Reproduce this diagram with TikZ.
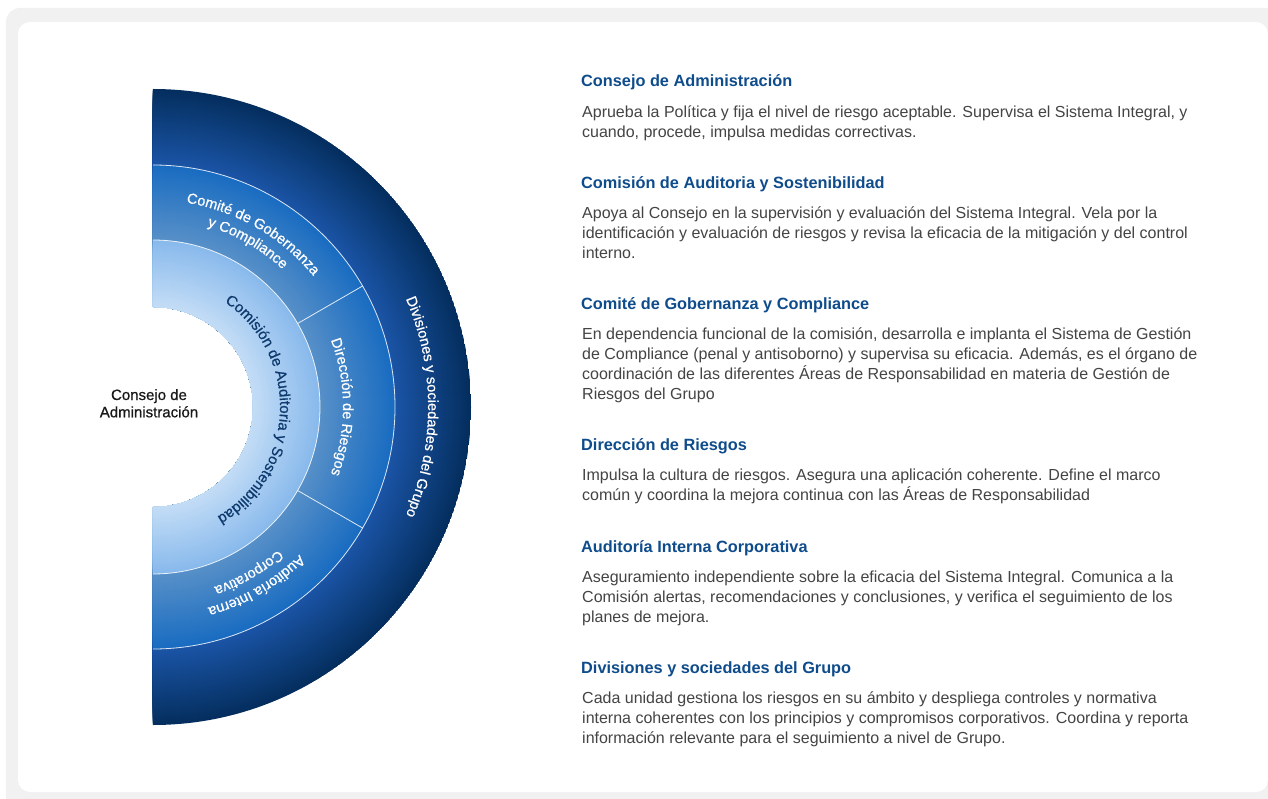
\documentclass[tikz,border=0pt]{standalone}
\usepackage{fontspec}
\setmainfont{Liberation Sans}
\newfontfamily\mediumfamily{Liberation Sans}[FakeBold=0.7]
\usetikzlibrary{decorations.text}

\definecolor{framegrey}{HTML}{F1F1F1}
\definecolor{headblue}{HTML}{0F4C8C}
\definecolor{bodygrey}{HTML}{444444}
\definecolor{navytext}{HTML}{0E3A6E}
\definecolor{innerhi}{HTML}{C4DDF6}
\definecolor{innerlo}{HTML}{88B9EC}
\definecolor{midhi}{HTML}{5890C8}
\definecolor{midlo}{HTML}{196CC1}
\definecolor{outerhi}{HTML}{1B55A7}
\definecolor{outerlo}{HTML}{042E5E}

% radial blend of one ring: inner radius, outer radius, inner colour, outer colour
\newcommand{\ringshade}[4]{%
  \foreach \r in {#2,...,#1} {
    \pgfmathsetmacro\p{100*(\r-#1)/(#2-#1)}
    \fill[#4!\p!#3] (O) circle[radius=\r];
  }}

\newcommand{\headfont}{\fontsize{16.3}{20}\selectfont\bfseries}
\newcommand{\bodyfont}{\fontsize{16}{20}\selectfont}
\newcommand{\ringfont}{\mediumfamily\fontsize{14.5}{17}\selectfont}
\newcommand{\boardfont}{\mediumfamily\fontsize{15}{17.3}\selectfont}

\tikzstyle{heading}=[anchor=base west, inner sep=0, font=\headfont, text=headblue]
\tikzstyle{body}=[anchor=base west, inner sep=0, font=\bodyfont, text=bodygrey]
\tikzstyle{ringline}=[white, opacity=0.85, line width=0.8pt]
\tikzstyle{ring label}=[decorate, decoration={text along path, text align=center, text color=white}]

\begin{document}
\begin{tikzpicture}[x=1pt, y=1pt]
  \useasboundingbox (-153,-391) rectangle (1115,407);
  \fill[white] (-153,-391) rectangle (1115,407);
  % card on grey frame
  \fill[framegrey, rounded corners=14] (-147,399) rectangle (1160,-420);
  \fill[white, rounded corners=12] (-135,385) rectangle (1115,-385);

  \coordinate (O) at (0,0);

  % half rings
  \begin{scope}
    \clip (O) ++(90:318) arc[start angle=90, end angle=-90, radius=318]
      -- ++(0,218) arc[start angle=-90, end angle=90, radius=100] -- cycle;
    \ringshade{242}{318}{outerhi}{outerlo}
    \ringshade{167}{242}{midhi}{midlo}
    \ringshade{100}{167}{innerhi}{innerlo}
  \end{scope}
  \draw[ringline] (O) ++(90:167) arc[start angle=90, end angle=-90, radius=167];
  \draw[ringline] (O) ++(90:242) arc[start angle=90, end angle=-90, radius=242];
  \draw[ringline] (30:167) -- (30:242);
  \draw[ringline] (-30:167) -- (-30:242);

  % ring labels
  \path[ring label, decoration={text={|\ringfont|Divisiones y sociedades del Grupo}}]
    (O) ++(70:275) arc[start angle=70, end angle=-70, radius=275];
  \path[ring label, decoration={text={|\ringfont|Comité de Gobernanza}}]
    (O) ++(89:207) arc[start angle=89, end angle=31, radius=207];
  \path[ring label, decoration={text={|\ringfont|y Compliance}}]
    (O) ++(89:189) arc[start angle=89, end angle=31, radius=189];
  \path[ring label, decoration={text={|\ringfont|Dirección de Riesgos}}]
    (O) ++(60:190) arc[start angle=60, end angle=-60, radius=190];
  \path[ring label, decoration={text={|\ringfont|Auditoría Interna}}]
    (O) ++(-31:208) arc[start angle=-31, end angle=-89, radius=208];
  \path[ring label, decoration={text={|\ringfont|Corporativa}}]
    (O) ++(-31:190) arc[start angle=-31, end angle=-89, radius=190];
  \path[ring label, decoration={text color=navytext,
      text={|\mediumfamily\fontsize{15}{17}\selectfont|Comisión de Auditoria y Sostenibilidad}}]
    (O) ++(80:127) arc[start angle=80, end angle=-84, radius=127];

  \node[anchor=base, inner sep=0, font=\boardfont, text=black!90] (board) at (-4,7)
    {\parbox[t]{140pt}{\centering Consejo de\\Administración}};

  % descriptions
  \node[heading] (h1) at (428,320.3) {Consejo de Administración};
  \node[body] (b1) at (429,289.7) {\parbox[t]{700pt}{%
    Aprueba la Política y fija el nivel de riesgo aceptable. Supervisa el Sistema Integral, y\\
    cuando, procede, impulsa medidas correctivas.}};

  \node[heading] (h2) at (428,218.7) {Comisión de Auditoria y Sostenibilidad};
  \node[body] (b2) at (429,188.7) {\parbox[t]{700pt}{%
    Apoya al Consejo en la supervisión y evaluación del Sistema Integral. Vela por la\\
    identificación y evaluación de riesgos y revisa la eficacia de la mitigación y del control\\
    interno.}};

  \node[heading] (h3) at (428,97.7) {Comité de Gobernanza y Compliance};
  \node[body] (b3) at (429,67.7) {\parbox[t]{700pt}{%
    En dependencia funcional de la comisión, desarrolla e implanta el Sistema de Gestión\\
    de Compliance (penal y antisoborno) y supervisa su eficacia. Además, es el órgano de\\
    coordinación de las diferentes Áreas de Responsabilidad en materia de Gestión de\\
    Riesgos del Grupo}};

  \node[heading] (h4) at (428,-43.7) {Dirección de Riesgos};
  \node[body] (b4) at (429,-73.7) {\parbox[t]{700pt}{%
    Impulsa la cultura de riesgos. Asegura una aplicación coherente. Define el marco\\
    común y coordina la mejora continua con las Áreas de Responsabilidad}};

  \node[heading] (h5) at (428,-145.3) {Auditoría Interna Corporativa};
  \node[body] (b5) at (429,-175.3) {\parbox[t]{700pt}{%
    Aseguramiento independiente sobre la eficacia del Sistema Integral. Comunica a la\\
    Comisión alertas, recomendaciones y conclusiones, y verifica el seguimiento de los\\
    planes de mejora.}};

  \node[heading] (h6) at (428,-266.3) {Divisiones y sociedades del Grupo};
  \node[body] (b6) at (429,-296.3) {\parbox[t]{700pt}{%
    Cada unidad gestiona los riesgos en su ámbito y despliega controles y normativa\\
    interna coherentes con los principios y compromisos corporativos. Coordina y reporta\\
    información relevante para el seguimiento a nivel de Grupo.}};
\end{tikzpicture}
\end{document}
